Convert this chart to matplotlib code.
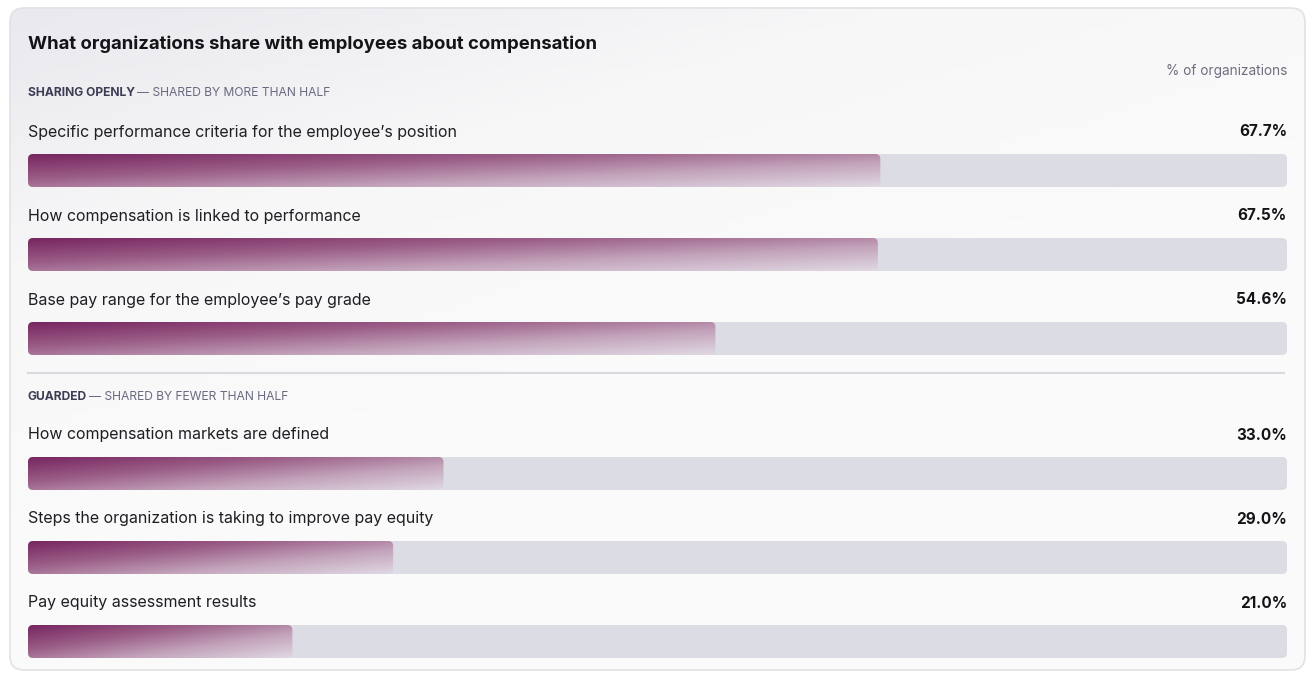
import numpy as np
import matplotlib.pyplot as plt
from matplotlib.patches import FancyBboxPatch
from matplotlib.colors import LinearSegmentedColormap

plt.rcParams['font.family'] = ['Inter', 'DejaVu Sans']

title = "What organizations share with employees about compensation"
unit_note = "% of organizations"

section_names = ["SHARING OPENLY", "GUARDED"]
section_notes = ["SHARED BY MORE THAN HALF", "SHARED BY FEWER THAN HALF"]

items = [
    "Specific performance criteria for the employee\u2019s position",
    "How compensation is linked to performance",
    "Base pay range for the employee\u2019s pay grade",
    "How compensation markets are defined",
    "Steps the organization is taking to improve pay equity",
    "Pay equity assessment results",
]
shares = [67.7, 67.5, 54.6, 33.0, 29.0, 21.0]
item_section = [0, 0, 0, 1, 1, 1]

W, H = 1309, 673
fig = plt.figure(figsize=(W / 100, H / 100), dpi=100)
fig.patch.set_facecolor('white')

# background axes in pixel units
bg = fig.add_axes([0, 0, 1, 1])
bg.set_xlim(0, W)
bg.set_ylim(H, 0)
bg.axis('off')

# card with a soft diagonal wash
card = FancyBboxPatch((10, 8), 1295, 662, boxstyle="round,pad=0,rounding_size=14",
                      facecolor='none', edgecolor='#e2e2e6', lw=1.2, zorder=3)
bg.add_patch(card)
gx, gy = np.meshgrid(np.linspace(0, 1, 200), np.linspace(0, 1, 100))
wash = np.clip(0.75 * gx + 1.3 * gy, 0, 1)
card_cmap = LinearSegmentedColormap.from_list('card', ['#e9e9ee', '#f7f7f8', '#fafafa'])
im = bg.imshow(wash, cmap=card_cmap, extent=[10, 1305, 670, 8], aspect='auto', zorder=1)
im.set_clip_path(card)

# bar axes: x in percent, y in pixels
left, right = 28, 1287
px_per_pct = (right - left) / 100
ax = fig.add_axes([left / W, 0, (right - left) / W, 1])
ax.set_xlim(0, 100)
ax.set_ylim(H, 0)
ax.axis('off')

bar_cmap = LinearSegmentedColormap.from_list(
    'bar', ['#772660', '#9a5c86', '#c3a4bb', '#e0d8e3'])

bg.text(28, 44, title, fontsize=13.3, fontweight='bold', color='#141418', va='center', ha='left', zorder=5)
bg.text(1287, 71, unit_note, fontsize=9.8, color='#6e6e7e', va='center', ha='right', zorder=5)

section_y = [93, 397]
for name, note, sy in zip(section_names, section_notes, section_y):
    t = bg.text(28, sy, name, fontsize=8.7, fontweight='bold', color='#3c3c55',
                va='center', ha='left', zorder=5)
    fig.canvas.draw()
    bb = t.get_window_extent()
    bg.text(bb.x1 + 2, sy, "\u2014 " + note, fontsize=8.7, color='#6a6a80',
            va='center', ha='left', zorder=5)

bg.plot([28, 1284], [373, 373], color='#d9d9e0', lw=1.5, zorder=4)

bar_h = 33
first_top = 154
row_gap = 84
section_gap = 135 - row_gap
gy2, gx2 = np.mgrid[0:1:60j, 0:1:300j]
grad = 0.55 * gx2 + 0.45 * gy2
for i, (label, val) in enumerate(zip(items, shares)):
    top = first_top + i * row_gap + item_section[i] * section_gap
    bg.text(28, top - 22, label, fontsize=11.5, color='#1e1e24', va='center', ha='left', zorder=5)
    bg.text(1287, top - 22, f"{val:.1f}%", fontsize=11, fontweight='bold', color='#141418',
            va='center', ha='right', zorder=5)
    track = FancyBboxPatch((0, top), 100, bar_h,
                           boxstyle=f"round,pad=0,rounding_size={5 / px_per_pct}",
                           mutation_aspect=px_per_pct, facecolor='#dcdce5', edgecolor='none', zorder=2)
    ax.add_patch(track)
    fill = FancyBboxPatch((0, top), val, bar_h,
                          boxstyle=f"round,pad=0,rounding_size={5 / px_per_pct}",
                          mutation_aspect=px_per_pct, facecolor='none', edgecolor='none', zorder=3)
    ax.add_patch(fill)
    bi = ax.imshow(grad, cmap=bar_cmap, vmin=0, vmax=1, extent=[0, val, top + bar_h, top],
                   aspect='auto', zorder=3, interpolation='bilinear')
    bi.set_clip_path(fill)

ax.set_xlim(0, 100)
ax.set_ylim(H, 0)
fig.savefig('out.png', dpi=100, facecolor='white')
